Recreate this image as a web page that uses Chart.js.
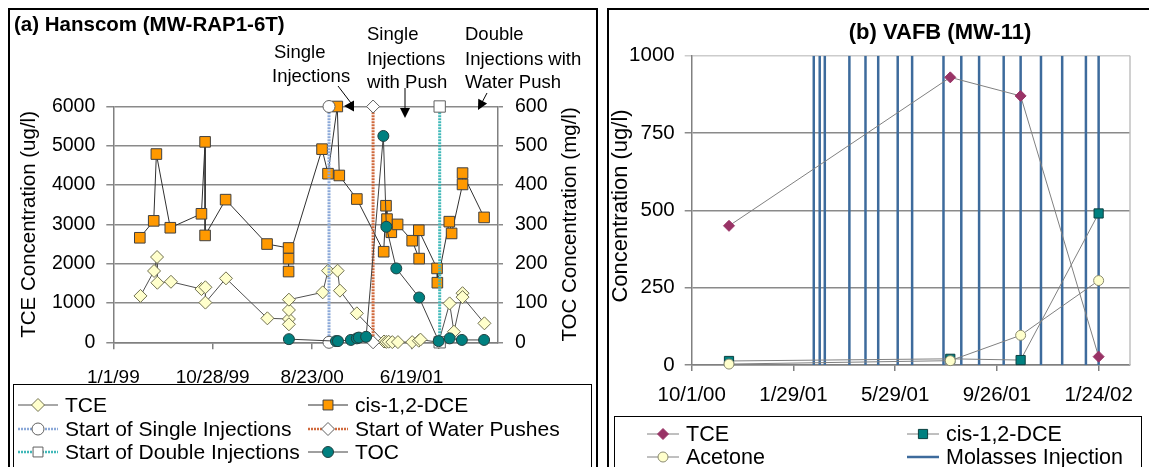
<!DOCTYPE html>
<html>
<head>
<meta charset="utf-8">
<script src="https://cdn.jsdelivr.net/npm/chart.js@4.4.0/dist/chart.umd.min.js"></script>
<style>
  body { margin: 0; background: #fff; }
  .stage { position: relative; width: 1149px; height: 467px; overflow: hidden; }
  .panel { position: absolute; border: 2px solid #000; box-sizing: border-box; }
  #panelA { left: 8px; top: 8px; width: 590px; height: 480px; }
  #panelB { left: 607px; top: 8px; width: 560px; height: 480px; }
  canvas { position: absolute; top: 0; }
  #chartA { left: 0; }
  #chartB { left: 600px; }
</style>
</head>
<body>
<div class="stage">
  <div class="panel" id="panelA"></div>
  <div class="panel" id="panelB"></div>
  <canvas id="chartA" width="600" height="467"></canvas>
  <canvas id="chartB" width="549" height="467"></canvas>
</div>
<script>
const FONT = '"Liberation Sans", Arial, sans-serif';
Chart.defaults.font.family = FONT;
Chart.defaults.color = '#000';

// (a) Hanscom -- days counted from 1/1/99
const hanscomStart = Date.UTC(1999, 0, 1);
const tceDays = [82, 123, 132, 133, 174, 266, 278, 278, 340, 465, 530, 530, 530, 530, 632, 648, 677, 684, 735,
  817, 824, 831, 842, 859, 902, 922, 927, 982, 1015, 1028, 1054, 1054, 1120];
const tceVals = [1180, 1815, 2170, 1515, 1540, 1355, 1400, 1010, 1627, 610, 593, 458, 822, 1085, 1271, 1822, 1822, 1314, 737,
  20, 10, 15, 5, 5, 5, 40, 70, 0, 990, 270, 1250, 1150, 483];
const dceDays = [80, 122, 130, 172, 266, 277, 277, 339, 464, 529, 529, 529, 630, 648, 676, 682, 735,
  816, 823, 826, 839, 858, 902, 923, 922, 977, 978, 1014, 1021, 1054, 1054, 1119];
const dceVals = [2660, 3090, 4790, 2915, 3270, 5100, 2720, 3630, 2500, 2400, 1800, 2130, 4915, 4290, 6000, 4245, 3645,
  2305, 3475, 3135, 2800, 3000, 2585, 2130, 2850, 1880, 1517, 3070, 2770, 4017, 4305, 3178];
const tocDays = [530, 672, 678, 717, 735, 741, 763, 815, 824, 854, 923, 982, 1015, 1052, 1119];
const tocVals = [8, 3, 3, 6, 10, 12, 14, 525, 294, 188, 114, 3, 10, 6, 6];
const eventNames = ['Start of Single Injections', 'Start of Water Pushes', 'Start of Double Injections'];
const eventDays = [651, 784, 985];
const hanscomTicks = [0, 300, 600, 900];

// (b) VAFB -- days counted from 10/1/00
const vafbStart = Date.UTC(2000, 9, 1);
const vafbDays = [44, 305, 388, 480];
const vafbTce = [450, 930, 870, 27];
const vafbDce = [13, 20, 16, 490];
const vafbAcetone = [3, 14, 96, 273];
const molassesDays = [144, 151, 157, 186, 205, 220, 243, 260, 297, 318, 339, 368, 388, 412, 437, 465, 480];
const vafbTicks = [0, 120, 240, 360, 480];

const pts = (xs, ys) => xs.map((x, i) => ({ x: x, y: ys[i] }));
const fmtDate = (start, d) => {
  const dt = new Date(start + d * 864e5);
  return (dt.getUTCMonth() + 1) + '/' + dt.getUTCDate() + '/' + String(dt.getUTCFullYear()).slice(2);
};
const plain = v => String(v);

function drawArrow(ctx, x1, y1, x2, y2) {
  const a = Math.atan2(y2 - y1, x2 - x1);
  ctx.beginPath();
  ctx.moveTo(x1, y1);
  ctx.lineTo(x2 - 6 * Math.cos(a), y2 - 6 * Math.sin(a));
  ctx.stroke();
  ctx.beginPath();
  ctx.moveTo(x2, y2);
  ctx.lineTo(x2 - 10 * Math.cos(a) + 5 * Math.sin(a), y2 - 10 * Math.sin(a) - 5 * Math.cos(a));
  ctx.lineTo(x2 - 10 * Math.cos(a) - 5 * Math.sin(a), y2 - 10 * Math.sin(a) + 5 * Math.cos(a));
  ctx.closePath();
  ctx.fill();
}

function vText(ctx, text, x, y, font) {
  ctx.save();
  ctx.translate(x, y);
  ctx.rotate(-Math.PI / 2);
  ctx.font = font;
  ctx.textAlign = 'center';
  ctx.textBaseline = 'middle';
  ctx.fillText(text, 0, 0);
  ctx.restore();
}

// legend drawn from the datasets themselves, two columns
function drawLegend(chart, order, box, colX, rowY, sample, font) {
  const ctx = chart.ctx;
  ctx.save();
  ctx.strokeStyle = '#000';
  ctx.lineWidth = 1;
  ctx.strokeRect(box.x + 0.5, box.y + 0.5, box.w, box.h);
  ctx.font = font;
  ctx.textBaseline = 'middle';
  order.forEach((label, i) => {
    const ds = chart.data.datasets.find(d => d.label === label);
    const x = colX[i % 2], y = rowY[Math.floor(i / 2)];
    ctx.save();
    ctx.strokeStyle = ds.borderColor;
    ctx.lineWidth = Math.min(ds.borderWidth, 2.5);
    ctx.setLineDash(ds.borderDash || []);
    ctx.beginPath();
    ctx.moveTo(x, y);
    ctx.lineTo(x + sample, y);
    ctx.stroke();
    ctx.restore();
    if (ds.pointRadius > 0) {
      ctx.fillStyle = ds.pointBackgroundColor;
      ctx.strokeStyle = ds.pointBorderColor;
      ctx.lineWidth = 1;
      Chart.helpers.drawPoint(ctx, { pointStyle: ds.pointStyle, radius: Math.min(ds.pointRadius, 7), rotation: 0, borderWidth: 1 }, x + sample / 2, y);
    }
    ctx.fillStyle = '#000';
    ctx.fillText(label, x + sample + 7, y + 1);
  });
  ctx.restore();
}

const decorA = {
  id: 'decorA',
  afterDraw(chart) {
    const ctx = chart.ctx;
    const area = chart.chartArea;
    ctx.save();
    ctx.fillStyle = '#000';
    ctx.strokeStyle = '#000';
    ctx.lineWidth = 1;
    ctx.textBaseline = 'middle';
    ctx.font = 'bold 20.5px ' + FONT;
    ctx.fillText('(a) Hanscom (MW-RAP1-6T)', 14, 25);
    ctx.font = '18.5px ' + FONT;
    ctx.fillText('Single', 274, 53);
    ctx.fillText('Injections', 272, 77);
    ctx.fillText('Single', 367, 35);
    ctx.fillText('Injections', 367, 60);
    ctx.fillText('with Push', 367, 83);
    ctx.fillText('Double', 465, 35);
    ctx.fillText('Injections with', 465, 60);
    ctx.fillText('Water Push', 465, 83);
    // pointer to the first injection marker
    ctx.beginPath();
    ctx.moveTo(338, 86);
    ctx.lineTo(351, 103);
    ctx.stroke();
    ctx.beginPath();
    ctx.moveTo(344, 106);
    ctx.lineTo(354, 100.5);
    ctx.lineTo(354, 111.5);
    ctx.closePath();
    ctx.fill();
    drawArrow(ctx, 405, 88, 405, 118);
    drawArrow(ctx, 487, 93, 478, 110);
    const midY = (area.top + area.bottom) / 2;
    vText(ctx, 'TCE Concentration (ug/l)', 29, midY, '20.5px ' + FONT);
    vText(ctx, 'TOC Concentration (mg/l)', 570, midY, '20.5px ' + FONT);
    ctx.restore();
    drawLegend(chart, ['TCE', 'cis-1,2-DCE', eventNames[0], eventNames[1], eventNames[2], 'TOC'],
      { x: 13, y: 384, w: 578, h: 100 }, [18, 308], [405, 429, 452], 40, '21px ' + FONT);
  }
};

const eventStyles = [
  { color: '#8aa8d8', point: 'circle', r: 6 },
  { color: '#d0693c', point: 'rectRot', r: 6.5 },
  { color: '#3fb8b8', point: 'rect', r: 8 }
];

new Chart(document.getElementById('chartA'), {
  type: 'scatter',
  data: {
    datasets: [
      { label: 'TCE', data: pts(tceDays, tceVals), yAxisID: 'y', order: 6, showLine: true, clip: false,
        borderColor: '#505050', borderWidth: 1, pointStyle: 'rectRot', pointRadius: 6.5,
        pointBackgroundColor: '#ffffcc', pointBorderColor: '#707050', pointBorderWidth: 1 },
      { label: 'cis-1,2-DCE', data: pts(dceDays, dceVals), yAxisID: 'y', order: 5, showLine: true, clip: false,
        borderColor: '#303030', borderWidth: 1, pointStyle: 'rect', pointRadius: 7.5,
        pointBackgroundColor: '#ff9900', pointBorderColor: '#404040', pointBorderWidth: 1 },
      ...eventNames.map((name, i) => ({
        label: name, data: [{ x: eventDays[i], y: 0 }, { x: eventDays[i], y: 6000 }], yAxisID: 'y', order: 2 + i,
        showLine: true, clip: false, borderColor: eventStyles[i].color, borderWidth: 3, borderDash: [2, 1],
        pointStyle: eventStyles[i].point, pointRadius: eventStyles[i].r, pointBackgroundColor: '#ffffff',
        pointBorderColor: '#606060', pointBorderWidth: 1
      })),
      { label: 'TOC', data: pts(tocDays, tocVals), yAxisID: 'y1', order: 1, showLine: true, clip: false,
        borderColor: '#404040', borderWidth: 1, pointStyle: 'circle', pointRadius: 5.5,
        pointBackgroundColor: '#008080', pointBorderColor: '#204040', pointBorderWidth: 1 }
    ]
  },
  options: {
    responsive: false,
    animation: false,
    layout: { padding: { top: 106.5, left: 0, right: 0, bottom: 0 } },
    plugins: { legend: { display: false }, tooltip: { enabled: false } },
    scales: {
      x: {
        type: 'linear', min: 0, max: 1161,
        afterBuildTicks: s => { s.ticks = hanscomTicks.map(v => ({ value: v })); },
        afterFit: s => { s.height = 124.7; },
        ticks: { callback: v => fmtDate(hanscomStart, v), maxRotation: 0, padding: 17, font: { size: 19 } },
        grid: { drawOnChartArea: false, tickLength: 7, color: '#808080', lineWidth: 1.5 },
        border: { color: '#808080', width: 1.5 }
      },
      y: {
        position: 'left', min: 0, max: 6000,
        afterFit: s => { s.width = 113.3; },
        ticks: { stepSize: 1000, padding: 11, font: { size: 19.5 }, callback: plain },
        grid: { color: '#8a8a8a', lineWidth: 1.5, tickLength: 7 },
        border: { color: '#808080', width: 1.5 }
      },
      y1: {
        position: 'right', min: 0, max: 600,
        afterFit: s => { s.width = 102; },
        ticks: { stepSize: 100, padding: 12, font: { size: 19.5 }, callback: plain },
        grid: { drawOnChartArea: false, tickLength: 5, color: '#8a8a8a', lineWidth: 1.5 },
        border: { color: '#808080', width: 1.5 }
      }
    }
  },
  plugins: [decorA]
});

const decorB = {
  id: 'decorB',
  afterDraw(chart) {
    const ctx = chart.ctx;
    const area = chart.chartArea;
    ctx.save();
    ctx.strokeStyle = '#c0c0c0';
    ctx.lineWidth = 1.5;
    ctx.beginPath();
    ctx.moveTo(area.right, area.top);
    ctx.lineTo(area.right, area.bottom);
    ctx.stroke();
    ctx.fillStyle = '#000';
    ctx.font = 'bold 22px ' + FONT;
    ctx.textAlign = 'center';
    ctx.textBaseline = 'middle';
    ctx.fillText('(b) VAFB (MW-11)', 340, 33);
    vText(ctx, 'Concentration (ug/l)', 21, 206, '22px ' + FONT);
    ctx.restore();
    drawLegend(chart, ['TCE', 'cis-1,2-DCE', 'Acetone', 'Molasses Injection'],
      { x: 14, y: 416, w: 527, h: 100 }, [47, 307], [434, 457], 32, '21.5px ' + FONT);
  }
};

new Chart(document.getElementById('chartB'), {
  type: 'scatter',
  data: {
    datasets: [
      { label: 'TCE', data: pts(vafbDays, vafbTce), order: 1, showLine: true, clip: false,
        borderColor: '#808080', borderWidth: 1, pointStyle: 'rectRot', pointRadius: 5.5,
        pointBackgroundColor: '#993366', pointBorderColor: '#993366', pointBorderWidth: 1 },
      { label: 'cis-1,2-DCE', data: pts(vafbDays, vafbDce), order: 3, showLine: true, clip: false,
        borderColor: '#808080', borderWidth: 1, pointStyle: 'rect', pointRadius: 6.5,
        pointBackgroundColor: '#008080', pointBorderColor: '#0a4040', pointBorderWidth: 1 },
      { label: 'Acetone', data: pts(vafbDays, vafbAcetone), order: 2, showLine: true, clip: false,
        borderColor: '#808080', borderWidth: 1, pointStyle: 'circle', pointRadius: 5,
        pointBackgroundColor: '#ffffcc', pointBorderColor: '#8a8a70', pointBorderWidth: 1 },
      { label: 'Molasses Injection', order: 4, showLine: true, spanGaps: false,
        data: molassesDays.flatMap(d => [{ x: d, y: 0 }, { x: d, y: 1000 }, { x: d, y: null }]),
        borderColor: '#3d6b9c', borderWidth: 2.5, pointRadius: 0 }
    ]
  },
  options: {
    responsive: false,
    animation: false,
    layout: { padding: { top: 55.7, left: 0, right: 19, bottom: 0 } },
    plugins: { legend: { display: false }, tooltip: { enabled: false } },
    scales: {
      x: {
        type: 'linear', min: 0, max: 517,
        afterBuildTicks: s => { s.ticks = vafbTicks.map(v => ({ value: v })); },
        afterFit: s => { s.height = 102; },
        ticks: { callback: v => fmtDate(vafbStart, v), maxRotation: 0, padding: 12, font: { size: 20.5 } },
        grid: { drawOnChartArea: false, tickLength: 6, color: '#808080', lineWidth: 1.5 },
        border: { color: '#808080', width: 1.5 }
      },
      y: {
        min: 0, max: 1000,
        afterFit: s => { s.width = 91.7; },
        ticks: { stepSize: 250, padding: 10, font: { size: 20.5 }, callback: plain },
        grid: { color: c => c.tick.value === 1000 ? '#cccccc' : '#8a8a8a', lineWidth: 1.5, tickLength: 7 },
        border: { color: '#808080', width: 1.5 }
      }
    }
  },
  plugins: [decorB]
});
</script>
</body>
</html>
